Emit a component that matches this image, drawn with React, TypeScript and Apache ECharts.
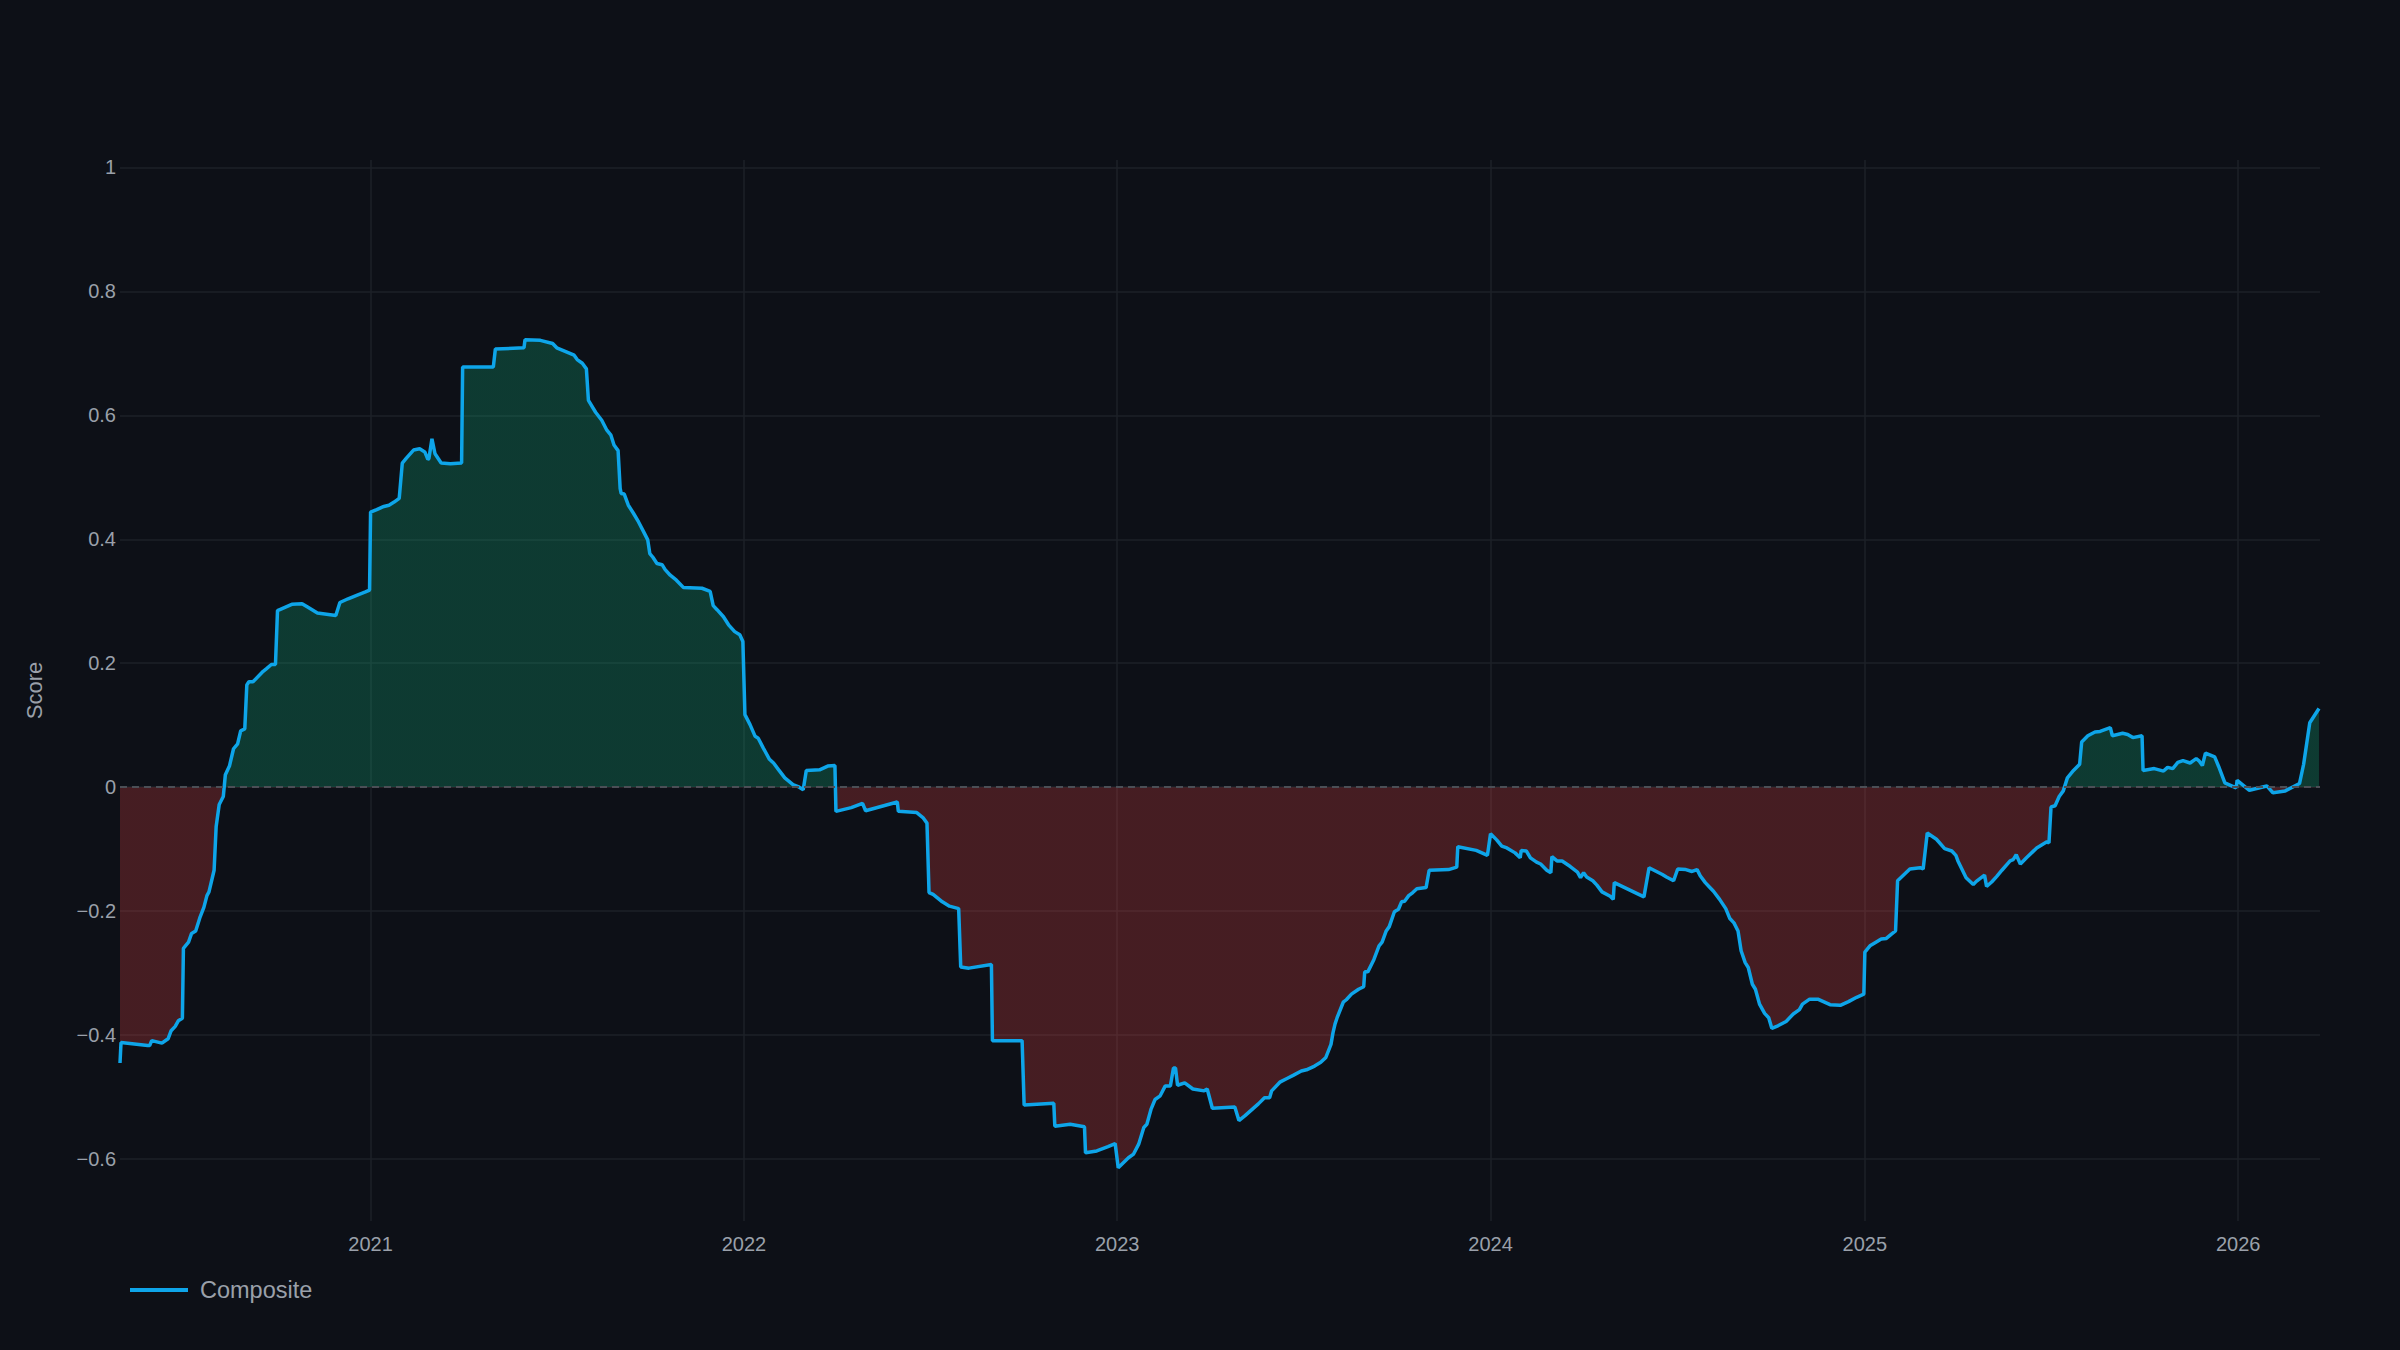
import { useEffect, useRef } from "react";
import * as echarts from "echarts";

// composite score, grouped by year
const points2020: [string, number][] = [
  ["2020-05-01", -0.445], ["2020-05-02", -0.412], ["2020-05-28", -0.417], ["2020-05-30", -0.417],
  ["2020-06-01", -0.409], ["2020-06-11", -0.413], ["2020-06-17", -0.406], ["2020-06-20", -0.393],
  ["2020-06-24", -0.386], ["2020-06-27", -0.377], ["2020-07-01", -0.373], ["2020-07-02", -0.26],
  ["2020-07-07", -0.25], ["2020-07-10", -0.236], ["2020-07-14", -0.232], ["2020-07-18", -0.211],
  ["2020-07-22", -0.194], ["2020-07-25", -0.175], ["2020-07-27", -0.169], ["2020-08-01", -0.134],
  ["2020-08-03", -0.064], ["2020-08-06", -0.028], ["2020-08-10", -0.015], ["2020-08-12", 0.02],
  ["2020-08-16", 0.034], ["2020-08-20", 0.062], ["2020-08-24", 0.07], ["2020-08-27", 0.091],
  ["2020-08-31", 0.094], ["2020-09-02", 0.165], ["2020-09-04", 0.17], ["2020-09-08", 0.17],
  ["2020-09-18", 0.187], ["2020-09-21", 0.191], ["2020-09-26", 0.198], ["2020-09-30", 0.198],
  ["2020-10-02", 0.285], ["2020-10-16", 0.295], ["2020-10-26", 0.296], ["2020-10-31", 0.291],
  ["2020-11-10", 0.281], ["2020-11-28", 0.277], ["2020-12-02", 0.298], ["2020-12-10", 0.304],
  ["2020-12-19", 0.31], ["2020-12-27", 0.315], ["2020-12-31", 0.318],
];

const points2021: [string, number][] = [
  ["2021-01-01", 0.444], ["2021-01-07", 0.448], ["2021-01-14", 0.453], ["2021-01-19", 0.455],
  ["2021-01-24", 0.46], ["2021-01-29", 0.466], ["2021-02-01", 0.523], ["2021-02-05", 0.531],
  ["2021-02-12", 0.544], ["2021-02-18", 0.546], ["2021-02-23", 0.541], ["2021-02-26", 0.529],
  ["2021-02-27", 0.53], ["2021-03-02", 0.562], ["2021-03-05", 0.538], ["2021-03-11", 0.523],
  ["2021-03-20", 0.522], ["2021-03-31", 0.523], ["2021-04-01", 0.678], ["2021-05-01", 0.678],
  ["2021-05-03", 0.707], ["2021-05-31", 0.709], ["2021-06-01", 0.722], ["2021-06-16", 0.721],
  ["2021-06-28", 0.716], ["2021-07-02", 0.709], ["2021-07-12", 0.702], ["2021-07-19", 0.697],
  ["2021-07-22", 0.69], ["2021-07-27", 0.684], ["2021-07-31", 0.675], ["2021-08-02", 0.624],
  ["2021-08-09", 0.605], ["2021-08-15", 0.592], ["2021-08-20", 0.576], ["2021-08-24", 0.568],
  ["2021-08-27", 0.552], ["2021-08-31", 0.543], ["2021-09-02", 0.482], ["2021-09-03", 0.474],
  ["2021-09-06", 0.473], ["2021-09-10", 0.455], ["2021-09-15", 0.442], ["2021-09-20", 0.428],
  ["2021-09-25", 0.412], ["2021-09-29", 0.399], ["2021-10-01", 0.377], ["2021-10-04", 0.371],
  ["2021-10-08", 0.361], ["2021-10-13", 0.359], ["2021-10-16", 0.351], ["2021-10-21", 0.342],
  ["2021-10-27", 0.334], ["2021-11-03", 0.322], ["2021-11-21", 0.321], ["2021-11-29", 0.316],
  ["2021-12-02", 0.293], ["2021-12-06", 0.286], ["2021-12-12", 0.275], ["2021-12-17", 0.262],
  ["2021-12-23", 0.251], ["2021-12-28", 0.246], ["2021-12-31", 0.235],
];

const points2022: [string, number][] = [
  ["2022-01-02", 0.117], ["2022-01-07", 0.101], ["2022-01-12", 0.082], ["2022-01-15", 0.079],
  ["2022-01-20", 0.063], ["2022-01-26", 0.045], ["2022-01-30", 0.039], ["2022-02-04", 0.028],
  ["2022-02-10", 0.015], ["2022-02-18", 0.004], ["2022-02-23", 0.001], ["2022-02-28", -0.004],
  ["2022-03-03", 0.027], ["2022-03-16", 0.028], ["2022-03-24", 0.034], ["2022-03-31", 0.035],
  ["2022-04-01", -0.039], ["2022-04-16", -0.033], ["2022-04-27", -0.026], ["2022-04-30", -0.038],
  ["2022-05-31", -0.024], ["2022-06-01", -0.039], ["2022-06-19", -0.041], ["2022-06-25", -0.049],
  ["2022-06-29", -0.058], ["2022-07-01", -0.17], ["2022-07-05", -0.173], ["2022-07-14", -0.185],
  ["2022-07-21", -0.192], ["2022-07-30", -0.196], ["2022-08-01", -0.29], ["2022-08-09", -0.292],
  ["2022-08-31", -0.286], ["2022-09-01", -0.409], ["2022-09-30", -0.409], ["2022-10-02", -0.513],
  ["2022-10-31", -0.51], ["2022-11-01", -0.547], ["2022-11-16", -0.544], ["2022-11-30", -0.548],
  ["2022-12-01", -0.59], ["2022-12-12", -0.587], ["2022-12-23", -0.58], ["2022-12-30", -0.575],
];

const points2023: [string, number][] = [
  ["2023-01-02", -0.614], ["2023-01-12", -0.598], ["2023-01-17", -0.592], ["2023-01-22", -0.576],
  ["2023-01-27", -0.549], ["2023-01-30", -0.544], ["2023-02-03", -0.52], ["2023-02-07", -0.504],
  ["2023-02-12", -0.498], ["2023-02-17", -0.482], ["2023-02-22", -0.482], ["2023-02-25", -0.453],
  ["2023-02-27", -0.453], ["2023-03-01", -0.481], ["2023-03-08", -0.477], ["2023-03-16", -0.487],
  ["2023-03-27", -0.49], ["2023-03-30", -0.487], ["2023-04-04", -0.518], ["2023-04-26", -0.516],
  ["2023-04-30", -0.538], ["2023-05-06", -0.53], ["2023-05-19", -0.511], ["2023-05-25", -0.501],
  ["2023-05-30", -0.501], ["2023-06-01", -0.49], ["2023-06-09", -0.476], ["2023-06-16", -0.47],
  ["2023-06-22", -0.465], ["2023-06-30", -0.458], ["2023-07-05", -0.456], ["2023-07-13", -0.45],
  ["2023-07-19", -0.444], ["2023-07-24", -0.436], ["2023-07-29", -0.415], ["2023-07-31", -0.396],
  ["2023-08-02", -0.382], ["2023-08-04", -0.372], ["2023-08-10", -0.347], ["2023-08-13", -0.343],
  ["2023-08-18", -0.334], ["2023-08-25", -0.326], ["2023-08-30", -0.322], ["2023-08-31", -0.298],
  ["2023-09-03", -0.298], ["2023-09-09", -0.278], ["2023-09-14", -0.256], ["2023-09-17", -0.25],
  ["2023-09-21", -0.232], ["2023-09-24", -0.225], ["2023-09-29", -0.201], ["2023-10-03", -0.197],
  ["2023-10-06", -0.185], ["2023-10-09", -0.184], ["2023-10-13", -0.175], ["2023-10-17", -0.17],
  ["2023-10-21", -0.164], ["2023-10-30", -0.162], ["2023-11-02", -0.134], ["2023-11-21", -0.133],
  ["2023-11-29", -0.129], ["2023-11-30", -0.096], ["2023-12-18", -0.102], ["2023-12-29", -0.11],
];

const points2024: [string, number][] = [
  ["2024-01-01", -0.075], ["2024-01-07", -0.085], ["2024-01-12", -0.095], ["2024-01-17", -0.098],
  ["2024-01-25", -0.106], ["2024-01-30", -0.114], ["2024-01-31", -0.102], ["2024-02-05", -0.103],
  ["2024-02-09", -0.114], ["2024-02-15", -0.121], ["2024-02-19", -0.124], ["2024-02-25", -0.134],
  ["2024-02-29", -0.138], ["2024-03-01", -0.112], ["2024-03-06", -0.119], ["2024-03-11", -0.119],
  ["2024-03-19", -0.128], ["2024-03-26", -0.137], ["2024-03-29", -0.146], ["2024-04-01", -0.138],
  ["2024-04-04", -0.145], ["2024-04-10", -0.151], ["2024-04-14", -0.158], ["2024-04-19", -0.169],
  ["2024-04-27", -0.176], ["2024-04-30", -0.181], ["2024-05-01", -0.154], ["2024-05-30", -0.177],
  ["2024-06-04", -0.13], ["2024-06-17", -0.141], ["2024-06-21", -0.145], ["2024-06-28", -0.151],
  ["2024-07-02", -0.132], ["2024-07-10", -0.133], ["2024-07-16", -0.136], ["2024-07-21", -0.133],
  ["2024-07-24", -0.143], ["2024-07-29", -0.154], ["2024-08-02", -0.161], ["2024-08-06", -0.168],
  ["2024-08-12", -0.181], ["2024-08-18", -0.196], ["2024-08-22", -0.212], ["2024-08-26", -0.219],
  ["2024-08-30", -0.232], ["2024-09-02", -0.264], ["2024-09-06", -0.283], ["2024-09-09", -0.291],
  ["2024-09-13", -0.318], ["2024-09-16", -0.326], ["2024-09-20", -0.35], ["2024-09-25", -0.365],
  ["2024-09-29", -0.372], ["2024-10-02", -0.389], ["2024-10-08", -0.385], ["2024-10-16", -0.378],
  ["2024-10-23", -0.366], ["2024-10-29", -0.359], ["2024-11-01", -0.35], ["2024-11-08", -0.342],
  ["2024-11-16", -0.342], ["2024-11-28", -0.351], ["2024-12-08", -0.352], ["2024-12-16", -0.346],
  ["2024-12-24", -0.339], ["2024-12-31", -0.334],
];

const points2025: [string, number][] = [
  ["2025-01-01", -0.266], ["2025-01-06", -0.256], ["2025-01-11", -0.251], ["2025-01-17", -0.245],
  ["2025-01-22", -0.244], ["2025-01-27", -0.237], ["2025-01-31", -0.232], ["2025-02-02", -0.151],
  ["2025-02-14", -0.132], ["2025-02-24", -0.13], ["2025-02-27", -0.132], ["2025-03-03", -0.074],
  ["2025-03-12", -0.084], ["2025-03-20", -0.099], ["2025-03-27", -0.103], ["2025-03-31", -0.11],
  ["2025-04-02", -0.119], ["2025-04-10", -0.146], ["2025-04-17", -0.157], ["2025-04-20", -0.152],
  ["2025-04-28", -0.142], ["2025-04-30", -0.16], ["2025-05-05", -0.153], ["2025-05-10", -0.144],
  ["2025-05-15", -0.134], ["2025-05-23", -0.119], ["2025-05-26", -0.117], ["2025-05-29", -0.109],
  ["2025-06-02", -0.124], ["2025-06-08", -0.114], ["2025-06-18", -0.098], ["2025-06-28", -0.088],
  ["2025-06-30", -0.09], ["2025-07-02", -0.032], ["2025-07-06", -0.03], ["2025-07-10", -0.015],
  ["2025-07-14", -0.006], ["2025-07-18", 0.015], ["2025-07-24", 0.027], ["2025-07-30", 0.037],
  ["2025-08-01", 0.073], ["2025-08-07", 0.083], ["2025-08-14", 0.089], ["2025-08-19", 0.09],
  ["2025-08-29", 0.096], ["2025-08-31", 0.083], ["2025-09-10", 0.087], ["2025-09-15", 0.085],
  ["2025-09-20", 0.08], ["2025-09-29", 0.083], ["2025-09-30", 0.027], ["2025-10-11", 0.03],
  ["2025-10-20", 0.026], ["2025-10-24", 0.032], ["2025-10-29", 0.03], ["2025-11-03", 0.04],
  ["2025-11-08", 0.043], ["2025-11-15", 0.039], ["2025-11-21", 0.046], ["2025-11-24", 0.042],
  ["2025-11-27", 0.035], ["2025-11-30", 0.055], ["2025-12-09", 0.049], ["2025-12-13", 0.033],
  ["2025-12-19", 0.007], ["2025-12-30", -0.001], ["2025-12-31", 0.011],
];

const points2026: [string, number][] = [
  ["2026-01-12", -0.005], ["2026-01-29", 0.002], ["2026-02-04", -0.009], ["2026-02-16", -0.006],
  ["2026-03-02", 0.006], ["2026-03-06", 0.037], ["2026-03-12", 0.104], ["2026-03-21", 0.127],
];

const yearTicks = ["2021-01-01", "2022-01-01", "2023-01-01", "2024-01-01", "2025-01-01", "2026-01-01"];
const scoreTicks = [-0.6, -0.4, -0.2, 0, 0.2, 0.4, 0.6, 0.8, 1];
const rangeStart = "2020-05-01";
const rangeEnd = "2026-03-22";

const BG = "#0d1017";
const LINE_COLOR = "#0ea5e9";
const TEXT = "#9aa0aa";
const GRID = "#1c2028";
const FONT = "'Liberation Sans', Arial, sans-serif";

const ts = (d: string) => Date.parse(d); // ISO date -> UTC ms

const composite = [
  ...points2020,
  ...points2021,
  ...points2022,
  ...points2023,
  ...points2024,
  ...points2025,
  ...points2026,
].map(([d, v]) => [ts(d), v]);

export default function App() {
  const ref = useRef<HTMLDivElement>(null);

  useEffect(() => {
    if (!ref.current) return;
    const chart = echarts.init(ref.current, null, { renderer: "svg" });

    chart.setOption({
      animation: false,
      backgroundColor: BG,
      textStyle: { fontFamily: FONT },
      grid: {
        left: 120,
        right: 80,
        top: 160,
        bottom: 129,
        containLabel: false,
        outerBoundsMode: "none",
      },
      legend: {
        left: 130,
        top: 1278,
        padding: 0,
        icon: "rect",
        itemWidth: 58,
        itemHeight: 4,
        itemStyle: { color: LINE_COLOR },
        textStyle: { color: TEXT, fontSize: 23.5, padding: [0, 0, 0, 7] },
        data: ["Composite"],
      },
      // fill green above zero, red below (bounded pieces so the gradient has stops)
      visualMap: {
        show: false,
        type: "piecewise",
        seriesIndex: 0,
        dimension: 1,
        pieces: [
          { gt: -10, lte: 0, color: "rgba(239,68,68,0.25)" },
          { gt: 0, lte: 10, color: "rgba(16,185,129,0.25)" },
        ],
      },
      xAxis: {
        type: "value",
        min: ts(rangeStart),
        max: ts(rangeEnd),
        axisLine: { show: false },
        axisTick: { show: false, customValues: yearTicks.map(ts) },
        axisLabel: {
          customValues: yearTicks.map(ts),
          color: TEXT,
          fontSize: 20,
          margin: 13,
          formatter: (v: number) => String(new Date(v).getUTCFullYear()),
        },
        splitLine: { show: true, lineStyle: { color: GRID, width: 1.5 } },
      },
      yAxis: {
        type: "value",
        min: -0.7,
        max: 1.012,
        name: "Score",
        nameLocation: "middle",
        nameGap: 75,
        nameTextStyle: { color: TEXT, fontSize: 22 },
        axisLine: { show: false },
        axisTick: { show: false, customValues: scoreTicks },
        axisLabel: {
          customValues: scoreTicks,
          color: TEXT,
          fontSize: 20,
          margin: 4,
          formatter: (v: number) => String(v).replace("-", "\u2212"),
        },
        splitLine: { show: true, lineStyle: { color: GRID, width: 1.5 } },
      },
      series: [
        {
          name: "Composite",
          type: "line",
          data: composite,
          showSymbol: false,
          symbol: "none",
          itemStyle: { color: LINE_COLOR },
          lineStyle: { color: LINE_COLOR, width: 3.5 },
          areaStyle: { opacity: 1 },
          markLine: {
            silent: true,
            symbol: "none",
            label: { show: false },
            lineStyle: { type: [7, 5], color: "#4b4f56", width: 2 },
            data: [{ yAxis: 0 }],
          },
        },
      ],
    });

    const onResize = () => chart.resize();
    window.addEventListener("resize", onResize);
    return () => {
      window.removeEventListener("resize", onResize);
      chart.dispose();
    };
  }, []);

  return (
    <div
      ref={ref}
      style={{ position: "fixed", left: 0, top: 0, width: "100vw", height: "100vh" }}
    />
  );
}
